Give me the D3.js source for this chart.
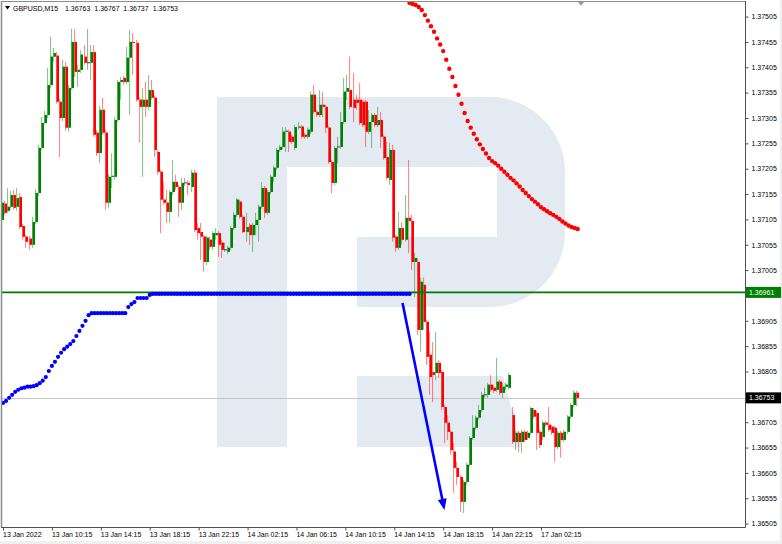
<!DOCTYPE html>
<html><head><meta charset="utf-8">
<script src="https://cdn.jsdelivr.net/npm/d3@7"></script>
<style>
body{margin:0;background:#fff;}
svg{display:block;font-family:"Liberation Sans",Arial,sans-serif;}
</style>
</head><body>
<svg id="chart" width="782" height="544"></svg>
<script>
// ---------------- DATA ----------------
const symbolName = "GBPUSD,M15";
const lastQuote = [1.36763, 1.36767, 1.36737, 1.36753]; // O H L C of last bar
const timeLabels = ["13 Jan 2022","13 Jan 10:15","13 Jan 14:15","13 Jan 18:15","13 Jan 22:15","14 Jan 02:15","14 Jan 06:15","14 Jan 10:15","14 Jan 14:15","14 Jan 18:15","14 Jan 22:15","17 Jan 02:15"];
const timeLabelBars = [0,16,32,48,64,80,96,112,128,144,160,176];
const priceTicks = [1.36505,1.36555,1.36605,1.36655,1.36705,1.36755,1.36805,1.36855,1.36905,1.36955,1.37005,1.37055,1.37105,1.37155,1.37205,1.37255,1.37305,1.37355,1.37405,1.37455,1.37505];

const open = [
1.37104,1.37136,1.37122,1.37130,1.37153,1.37130,1.37149,1.37092,1.37071,1.37067,
1.37055,1.37100,1.37157,1.37246,1.37295,1.37311,1.37370,1.37426,1.37428,1.37337,
1.37305,1.37406,1.37286,1.37364,1.37455,1.37396,1.37400,1.37426,1.37414,1.37414,
1.37435,1.37276,1.37236,1.37321,1.37276,1.37138,1.37189,1.37189,1.37301,1.37376,
1.37384,1.37376,1.37424,1.37455,1.37453,1.37341,1.37327,1.37341,1.37327,1.37360,
1.37345,1.37238,1.37199,1.37144,1.37138,1.37120,1.37159,1.37179,1.37169,1.37138,
1.37177,1.37177,1.37169,1.37197,1.37088,1.37080,1.37071,1.37021,1.37065,1.37051,
1.37074,1.37078,1.37059,1.37045,1.37041,1.37049,1.37088,1.37114,1.37140,1.37110,
1.37080,1.37094,1.37074,1.37094,1.37104,1.37130,1.37167,1.37118,1.37159,1.37189,
1.37207,1.37242,1.37248,1.37278,1.37278,1.37268,1.37246,1.37286,1.37288,1.37272,
1.37268,1.37278,1.37351,1.37317,1.37311,1.37331,1.37327,1.37286,1.37218,1.37177,
1.37248,1.37248,1.37297,1.37357,1.37360,1.37341,1.37341,1.37341,1.37337,1.37337,
1.37278,1.37297,1.37311,1.37291,1.37301,1.37268,1.37228,1.37183,1.37242,1.37071,
1.37049,1.37088,1.37065,1.37108,1.37102,1.37021,1.37021,1.36887,1.36976,1.36903,
1.36838,1.36804,1.36802,1.36822,1.36804,1.36735,1.36704,1.36686,1.36647,1.36615,
1.36597,1.36548,1.36587,1.36621,1.36674,1.36694,1.36714,1.36729,1.36759,1.36759,
1.36779,1.36773,1.36769,1.36785,1.36763,1.36775,1.36773,1.36719,1.36666,1.36684,
1.36666,1.36686,1.36674,1.36684,1.36729,1.36723,1.36686,1.36676,1.36704,1.36700,
1.36696,1.36694,1.36656,1.36684,1.36670,1.36686,1.36716,1.36739,1.36763];

const high = [
1.37144,1.37142,1.37167,1.37161,1.37163,1.37167,1.37157,1.37096,1.37074,1.37072,
1.37110,1.37165,1.37252,1.37307,1.37319,1.37404,1.37465,1.37443,1.37435,1.37343,
1.37420,1.37416,1.37370,1.37481,1.37481,1.37410,1.37439,1.37449,1.37481,1.37449,
1.37449,1.37282,1.37329,1.37345,1.37282,1.37195,1.37236,1.37307,1.37380,1.37386,
1.37388,1.37445,1.37479,1.37473,1.37459,1.37345,1.37364,1.37376,1.37390,1.37380,
1.37349,1.37242,1.37203,1.37179,1.37163,1.37163,1.37222,1.37193,1.37173,1.37187,
1.37187,1.37183,1.37203,1.37203,1.37098,1.37098,1.37074,1.37073,1.37071,1.37082,
1.37088,1.37082,1.37065,1.37059,1.37053,1.37092,1.37120,1.37147,1.37144,1.37114,
1.37118,1.37098,1.37098,1.37118,1.37134,1.37179,1.37171,1.37163,1.37193,1.37211,
1.37246,1.37252,1.37287,1.37287,1.37282,1.37272,1.37291,1.37297,1.37291,1.37276,
1.37286,1.37357,1.37370,1.37321,1.37360,1.37357,1.37331,1.37289,1.37222,1.37250,
1.37268,1.37317,1.37384,1.37390,1.37426,1.37394,1.37351,1.37374,1.37341,1.37341,
1.37321,1.37315,1.37315,1.37327,1.37317,1.37272,1.37258,1.37256,1.37252,1.37074,
1.37120,1.37100,1.37153,1.37222,1.37114,1.37039,1.37029,1.36990,1.36990,1.36907,
1.36883,1.36863,1.36883,1.36828,1.36808,1.36739,1.36719,1.36690,1.36664,1.36627,
1.36601,1.36591,1.36625,1.36678,1.36719,1.36718,1.36739,1.36765,1.36773,1.36783,
1.36798,1.36777,1.36832,1.36789,1.36783,1.36783,1.36802,1.36735,1.36688,1.36688,
1.36690,1.36690,1.36688,1.36735,1.36733,1.36727,1.36690,1.36708,1.36708,1.36735,
1.36700,1.36698,1.36688,1.36688,1.36690,1.36719,1.36743,1.36767,1.36767];

const low = [
1.37100,1.37114,1.37118,1.37126,1.37124,1.37122,1.37086,1.37065,1.37049,1.37045,
1.37049,1.37096,1.37151,1.37242,1.37293,1.37305,1.37364,1.37416,1.37333,1.37228,
1.37299,1.37280,1.37278,1.37360,1.37386,1.37366,1.37394,1.37410,1.37400,1.37380,
1.37268,1.37230,1.37216,1.37272,1.37124,1.37128,1.37167,1.37183,1.37297,1.37341,
1.37370,1.37372,1.37311,1.37390,1.37337,1.37256,1.37189,1.37307,1.37321,1.37341,
1.37228,1.37193,1.37078,1.37134,1.37098,1.37098,1.37153,1.37163,1.37110,1.37124,
1.37171,1.37153,1.37159,1.37080,1.37065,1.37025,1.37002,1.37015,1.37045,1.37045,
1.37065,1.37031,1.37029,1.37041,1.37037,1.37045,1.37084,1.37110,1.37106,1.37078,
1.37061,1.37055,1.37041,1.37074,1.37061,1.37126,1.37108,1.37114,1.37155,1.37179,
1.37203,1.37238,1.37244,1.37238,1.37238,1.37254,1.37242,1.37282,1.37264,1.37264,
1.37264,1.37274,1.37313,1.37307,1.37307,1.37307,1.37276,1.37215,1.37157,1.37173,
1.37216,1.37244,1.37293,1.37341,1.37323,1.37297,1.37321,1.37291,1.37287,1.37248,
1.37274,1.37246,1.37287,1.37287,1.37246,1.37222,1.37183,1.37173,1.37061,1.37041,
1.37045,1.37055,1.37061,1.37039,1.37005,1.36952,1.36877,1.36844,1.36887,1.36818,
1.36759,1.36745,1.36789,1.36792,1.36729,1.36664,1.36670,1.36641,1.36566,1.36581,
1.36528,1.36526,1.36581,1.36617,1.36670,1.36690,1.36710,1.36725,1.36753,1.36753,
1.36765,1.36763,1.36765,1.36759,1.36753,1.36769,1.36769,1.36662,1.36650,1.36646,
1.36645,1.36666,1.36670,1.36680,1.36712,1.36650,1.36654,1.36670,1.36696,1.36686,
1.36680,1.36627,1.36652,1.36635,1.36666,1.36682,1.36712,1.36735,1.36737];

const close = [
1.37138,1.37118,1.37130,1.37153,1.37128,1.37147,1.37090,1.37071,1.37061,1.37055,
1.37100,1.37157,1.37246,1.37295,1.37311,1.37370,1.37426,1.37433,1.37337,1.37305,
1.37406,1.37286,1.37364,1.37455,1.37396,1.37400,1.37430,1.37414,1.37414,1.37435,
1.37272,1.37236,1.37321,1.37276,1.37138,1.37189,1.37191,1.37301,1.37376,1.37380,
1.37376,1.37424,1.37455,1.37453,1.37341,1.37327,1.37341,1.37327,1.37360,1.37345,
1.37242,1.37199,1.37144,1.37138,1.37120,1.37159,1.37179,1.37169,1.37138,1.37177,
1.37177,1.37173,1.37197,1.37084,1.37078,1.37071,1.37021,1.37069,1.37051,1.37078,
1.37078,1.37055,1.37045,1.37045,1.37049,1.37088,1.37114,1.37144,1.37110,1.37080,
1.37090,1.37074,1.37094,1.37104,1.37130,1.37167,1.37118,1.37159,1.37189,1.37207,
1.37242,1.37248,1.37278,1.37280,1.37258,1.37258,1.37287,1.37288,1.37268,1.37268,
1.37282,1.37351,1.37317,1.37311,1.37331,1.37327,1.37286,1.37218,1.37177,1.37246,
1.37248,1.37297,1.37357,1.37364,1.37327,1.37325,1.37335,1.37295,1.37291,1.37278,
1.37297,1.37311,1.37291,1.37301,1.37268,1.37226,1.37187,1.37242,1.37069,1.37049,
1.37088,1.37065,1.37108,1.37102,1.37021,1.37029,1.36887,1.36982,1.36903,1.36834,
1.36794,1.36798,1.36822,1.36802,1.36735,1.36704,1.36686,1.36650,1.36615,1.36597,
1.36548,1.36587,1.36621,1.36674,1.36694,1.36714,1.36729,1.36759,1.36759,1.36779,
1.36769,1.36767,1.36785,1.36763,1.36775,1.36779,1.36798,1.36666,1.36684,1.36666,
1.36686,1.36670,1.36684,1.36733,1.36716,1.36684,1.36660,1.36704,1.36700,1.36690,
1.36684,1.36656,1.36684,1.36670,1.36686,1.36716,1.36739,1.36763,1.36753];

// blue dotted indicator, bars 0..133
const blueStartBar = 0;
const blueDots = [
1.36743,1.36747,1.36753,1.36759,1.36765,1.36769,1.36772,1.36773,1.36775,1.36775,
1.36776,1.36778,1.36782,1.36787,1.36794,1.36806,1.36816,1.36824,1.36834,1.36842,
1.36849,1.36854,1.36859,1.36865,1.36875,1.36885,1.36895,1.36905,1.36916,1.36920,
1.36920,1.36920,1.36920,1.36920,1.36920,1.36920,1.36920,1.36920,1.36920,1.36920,
1.36920,1.36932,1.36938,1.36942,1.36950,1.36950,1.36950,1.36950,1.36956,1.36958,
1.36958,1.36958,1.36958,1.36958,1.36958,1.36958,1.36958,1.36958,1.36958,1.36958,
1.36958,1.36958,1.36958,1.36958,1.36958,1.36958,1.36958,1.36958,1.36958,1.36958,
1.36958,1.36958,1.36958,1.36958,1.36958,1.36958,1.36958,1.36958,1.36958,1.36958,
1.36958,1.36958,1.36958,1.36958,1.36958,1.36958,1.36958,1.36958,1.36958,1.36958,
1.36958,1.36958,1.36958,1.36958,1.36958,1.36958,1.36958,1.36958,1.36958,1.36958,
1.36958,1.36958,1.36958,1.36958,1.36958,1.36958,1.36958,1.36958,1.36958,1.36958,
1.36958,1.36958,1.36958,1.36958,1.36958,1.36958,1.36958,1.36958,1.36958,1.36958,
1.36958,1.36958,1.36958,1.36958,1.36958,1.36958,1.36958,1.36958,1.36958,1.36958,
1.36958,1.36958,1.36958,1.36958];

// red dotted indicator, bars 133..188
const redStartBar = 133;
const redDots = [
1.37532,1.37530,1.37528,1.37524,1.37518,1.37508,1.37497,1.37486,1.37475,1.37462,
1.37450,1.37437,1.37420,1.37402,1.37386,1.37368,1.37351,1.37333,1.37315,1.37299,
1.37286,1.37274,1.37263,1.37253,1.37244,1.37235,1.37226,1.37220,1.37216,1.37211,
1.37205,1.37199,1.37193,1.37187,1.37182,1.37176,1.37170,1.37163,1.37157,1.37151,
1.37145,1.37140,1.37135,1.37129,1.37125,1.37121,1.37117,1.37114,1.37110,1.37106,
1.37101,1.37097,1.37093,1.37090,1.37088,1.37086];

const supportLevel = 1.36961;
const arrowFrom = [130.7, 1.36940]; // [bar, price]
const arrowTo = [144.4, 1.36532];

// ---------------- CHART ----------------
const svg = d3.select("#chart");
const L = 2, R = 745, T = 2, B = 527;
const x = d3.scaleLinear().domain([0, 188]).range([3, 577.7]);
const y = d3.scaleLinear().domain([1.36505, 1.37505]).range([523.6, 16.6]);

svg.append("rect").attr("width",782).attr("height",544).attr("fill","#fff");
svg.append("rect").attr("x",0).attr("y",541).attr("width",782).attr("height",3).attr("fill","#f0f0f0");
svg.append("rect").attr("x",780).attr("y",0).attr("width",2).attr("height",544).attr("fill","#f0f0f0");

svg.append("defs").append("clipPath").attr("id","plot")
  .append("rect").attr("x",L).attr("y",T).attr("width",R-L).attr("height",B-T);

const plot = svg.append("g").attr("clip-path","url(#plot)");

// watermark logo
const wm = "#e4eaf2";
plot.append("path").attr("fill", wm)
  .attr("d","M217,97 H490 A75,75 0 0 1 565,172 V232 A75,75 0 0 1 490,307 H357 V237 H497 V167 H287 V447 H217 Z");
plot.append("path").attr("fill", wm)
  .attr("d","M357,376 H503 L522,447 H357 Z");

// current price line
plot.append("line").attr("x1",L).attr("x2",R)
  .attr("y1",Math.round(y(lastQuote[3]))+0.5).attr("y2",Math.round(y(lastQuote[3]))+0.5)
  .attr("stroke","#c4c4c4").attr("stroke-width",1);

// candles
const bars = d3.range(open.length).map(i => ({i, o:open[i], h:high[i], l:low[i], c:close[i]}));
const cg = plot.append("g");
bars.forEach(d => {
  const px = Math.round(x(d.i));
  const up = d.c > d.o, dn = d.c < d.o;
  const col = up ? "#008000" : dn ? "#ff0000" : "#404040";
  const yh = y(d.h), yl = y(d.l);
  cg.append("rect").attr("x",px-2).attr("y",yh).attr("width",1.1).attr("height",Math.max(1,yl-yh))
    .attr("fill",col).attr("opacity",0.45);
  if (up || dn) {
    const y0 = y(Math.max(d.o,d.c)), y1 = y(Math.min(d.o,d.c));
    cg.append("rect").attr("x",px-2).attr("y",y0).attr("width",3).attr("height",Math.max(1,y1-y0))
      .attr("fill",col).attr("opacity",0.45);
    cg.append("rect").attr("x",px-1).attr("y",y0).attr("width",2).attr("height",Math.max(1,y1-y0))
      .attr("fill",col);
  } else {
    cg.append("rect").attr("x",px-2).attr("y",y(d.o)-0.5).attr("width",3).attr("height",1).attr("fill",col);
  }
});

// support line
plot.append("line").attr("x1",L).attr("x2",R).attr("y1",y(supportLevel)).attr("y2",y(supportLevel))
  .attr("stroke","#007a00").attr("stroke-width",1.6);

// blue dots
plot.append("g").selectAll("circle").data(blueDots).join("circle")
  .attr("cx",(d,k)=>x(blueStartBar+k)).attr("cy",d=>y(d)).attr("r",2.1).attr("fill","#0000ff");

// red dots
plot.append("g").selectAll("circle").data(redDots).join("circle")
  .attr("cx",(d,k)=>x(redStartBar+k)).attr("cy",d=>y(d)).attr("r",2.2).attr("fill","#ff0000");

// arrow
{
  const x1 = x(arrowFrom[0]), y1 = y(arrowFrom[1]), x2 = x(arrowTo[0]), y2 = y(arrowTo[1]);
  const len = Math.hypot(x2-x1, y2-y1), ux = (x2-x1)/len, uy = (y2-y1)/len;
  const hl = 11, hw = 4.5;
  const bx = x2 - ux*hl, by = y2 - uy*hl;
  plot.append("line").attr("x1",x1).attr("y1",y1).attr("x2",bx+ux*2).attr("y2",by+uy*2)
    .attr("stroke","#0000ff").attr("stroke-width",2.6);
  plot.append("path").attr("fill","#0000ff")
    .attr("d",`M${x2},${y2} L${bx - uy*hw},${by + ux*hw} L${bx + uy*hw},${by - ux*hw} Z`);
}

// frame
svg.append("line").attr("x1",1.5).attr("x2",1.5).attr("y1",1).attr("y2",B).attr("stroke","#8c8c8c").attr("stroke-width",1.5);
svg.append("line").attr("x1",1).attr("x2",R).attr("y1",1.5).attr("y2",1.5).attr("stroke","#8c8c8c").attr("stroke-width",1.2);
svg.append("line").attr("x1",R+0.5).attr("x2",R+0.5).attr("y1",1).attr("y2",B+0.5).attr("stroke","#505050");
svg.append("line").attr("x1",1).attr("x2",R+0.5).attr("y1",B+0.5).attr("y2",B+0.5).attr("stroke","#505050");

// chart shift marker
{
  const sx = Math.round(x(188)) + 3;
  svg.append("path").attr("d",`M${sx-3},2 L${sx+3},2 L${sx},6 Z`).attr("fill","#a0a0a0");
}

// price axis (tick labels hidden behind the two price boxes are left out, as in the terminal)
const boxed = [supportLevel, lastQuote[3]];
const ya = d3.axisRight(y).tickValues(priceTicks)
  .tickFormat(v => boxed.some(b => Math.abs(y(b) - y(v)) < 9) ? "" : d3.format(".5f")(v))
  .tickSize(3).tickPadding(3);
const yg = svg.append("g").attr("transform",`translate(${R+0.5},0)`).call(ya);
yg.select(".domain").remove();
yg.selectAll(".tick line").attr("stroke","#505050");
yg.selectAll(".tick text").attr("font-size",7).attr("fill","#000").attr("font-family","Liberation Sans, Arial, sans-serif");
yg.selectAll(".tick text").filter(function(){ return this.textContent === ""; }).remove();

// time axis
const xa = d3.axisBottom(x).tickValues(timeLabelBars).tickFormat((d,k)=>timeLabels[k]).tickSize(3).tickPadding(2);
const xg = svg.append("g").attr("transform",`translate(0,${B+0.5})`).call(xa);
xg.select(".domain").remove();
xg.selectAll(".tick line").attr("stroke","#505050");
xg.selectAll(".tick text").attr("font-size",7).attr("fill","#000").attr("text-anchor","start")
  .attr("dx",-0.5).attr("font-family","Liberation Sans, Arial, sans-serif");

// price labels
function priceBox(val, bg) {
  const yy = y(val);
  svg.append("rect").attr("x",R+1).attr("y",yy-5.5).attr("width",35).attr("height",11).attr("fill",bg);
  svg.append("text").attr("x",R+4).attr("y",yy).attr("dy","0.35em").attr("font-size",7)
    .attr("fill","#fff").text(d3.format(".5f")(val));
}
priceBox(supportLevel, "#008000");
priceBox(lastQuote[3], "#000000");

// title
svg.append("path").attr("d","M5,6 L10,6 L7.5,9.5 Z").attr("fill","#000");
const tt = svg.append("text").attr("y",10.5).attr("font-size",7).attr("fill","#000");
tt.append("tspan").attr("x",13).text(symbolName);
const qx = [65, 94.3, 123.3, 152.7];
lastQuote.forEach((q,k) => tt.append("tspan").attr("x",qx[k]).text(d3.format(".5f")(q)));
</script>
</body></html>
